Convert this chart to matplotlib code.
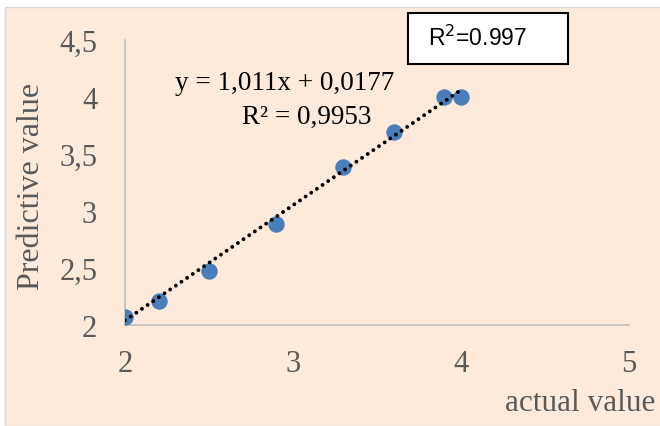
import numpy as np
import matplotlib.pyplot as plt
from matplotlib.patches import Rectangle

# dados
actual = [2.0, 2.2, 2.5, 2.9, 3.3, 3.6, 3.9, 4.0]
predicted = [2.07, 2.21, 2.47, 2.89, 3.39, 3.69, 4.0, 4.0]
slope, intercept = 1.011, 0.0177
x_ticks = [2, 3, 4, 5]
y_ticks = [2, 2.5, 3, 3.5, 4, 4.5]
y_labels = ["2", "2,5", "3", "3,5", "4", "4,5"]

bg = "#FDEADA"
grey = "#595959"

fig = plt.figure(figsize=(6.6, 4.27), dpi=100)
fig.patch.set_facecolor("white")
fig.patches.append(Rectangle((5 / 660, 0), 1, 1 - 8 / 427, transform=fig.transFigure,
                             facecolor=bg, edgecolor="#D9D9D9", lw=1, zorder=-10))

ax = fig.add_axes([125 / 660, 1 - 326 / 427, (629 - 125) / 660, (326 - 41) / 427])
ax.set_facecolor("none")

ax.scatter(actual, predicted, s=140, color="#4A7EBB", zorder=3, linewidths=0)
xx = np.array([2.0, 4.0])
ax.plot(xx, slope * xx + intercept, color="black", lw=2.8,
        linestyle=(0, (0.01, 1.75)), dash_capstyle="round", zorder=4)

ax.set_xlim(2, 5)
ax.set_ylim(2, 4.5)
ax.set_xticks(x_ticks)
ax.set_yticks(y_ticks)
ax.set_yticklabels(y_labels)
ax.tick_params(length=0, labelsize=22, labelcolor=grey)
ax.tick_params(axis="x", pad=17)
ax.tick_params(axis="y", pad=20)
for lab in ax.get_xticklabels() + ax.get_yticklabels():
    lab.set_family("Liberation Serif")
for side in ["top", "right"]:
    ax.spines[side].set_visible(False)
for side in ["left", "bottom"]:
    ax.spines[side].set_color("#BFBFBF")
    ax.spines[side].set_linewidth(1.2)

fig.text(32 / 660, 1 - 186 / 427, "Predictive value", rotation=90, ha="center", va="center",
         fontsize=23, color=grey, family="Liberation Serif")
fig.text(580 / 660, 1 - 404 / 427, "actual value", ha="center", va="center",
         fontsize=22.5, color=grey, family="Liberation Serif")

fig.text(285 / 660, 1 - 83 / 427, "y = 1,011x + 0,0177", ha="center", va="center",
         fontsize=19.5, color="black", family="Liberation Serif")
fig.text(307 / 660, 1 - 117 / 427, "R² = 0,9953", ha="center", va="center",
         fontsize=19.5, color="black", family="Liberation Serif")

fig.patches.append(Rectangle((408 / 660, 1 - 65 / 427), 160 / 660, 51 / 427,
                             transform=fig.transFigure, facecolor="white",
                             edgecolor="black", lw=1.5, zorder=5))
fig.text(428 / 660, 1 - 38 / 427, r"R$^2$=0.997", ha="left", va="center",
         fontsize=16.5, color="black", family="Liberation Sans", zorder=6)

plt.savefig("out.png", dpi=100)
